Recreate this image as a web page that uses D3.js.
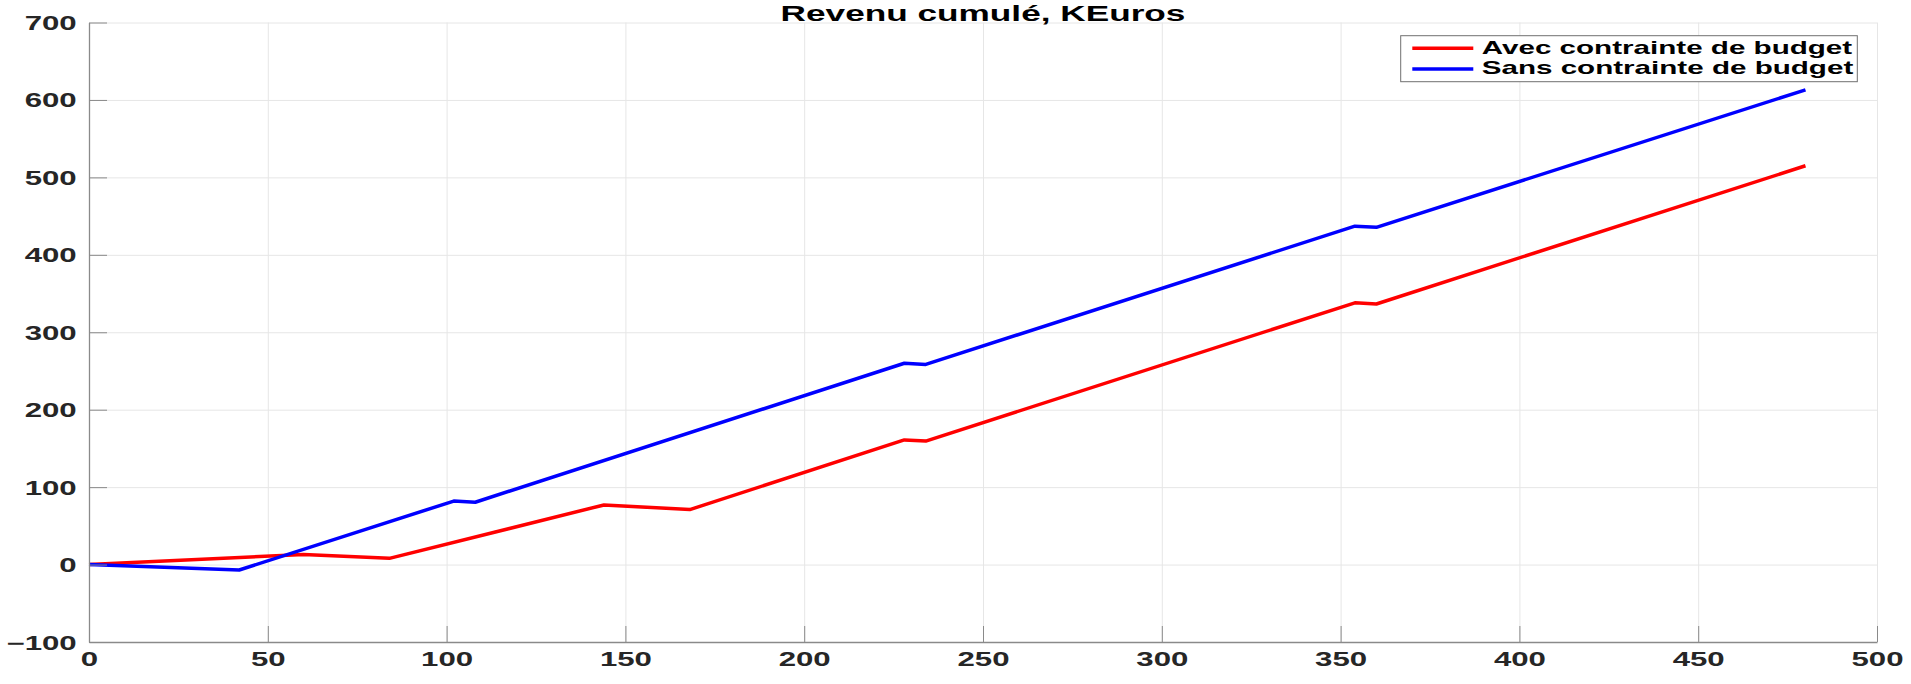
<!DOCTYPE html>
<html>
<head>
<meta charset="utf-8">
<script src="https://cdn.jsdelivr.net/npm/d3@7"></script>
<style>
  html, body { margin: 0; padding: 0; background: #ffffff; }
  svg { display: block; }
</style>
</head>
<body>
<svg id="chart" width="1911" height="684"></svg>
<script>
// ---- data ----
const title = "Revenu cumulé, KEuros";
const seriesNames = ["Avec contrainte de budget", "Sans contrainte de budget"];
const redX = [0, 60, 84, 144, 168, 228, 234, 354, 360, 480];
const redY = [0, 13, 8, 77, 71, 161, 159.5, 338, 336.5, 515];
const blueX = [0, 42, 102, 108, 228, 234, 354, 360, 480];
const blueY = [0, -7, 82, 80.5, 260, 258.5, 437, 435.5, 613];
const xTicks = [0, 50, 100, 150, 200, 250, 300, 350, 400, 450, 500];
const yTicks = [-100, 0, 100, 200, 300, 400, 500, 600, 700];

(function () {
// ---- layout ----
const pL = 89, pR = 1877, pT = 22.5, pB = 642;
const SX = 1.6; // horizontal stretch of text
const FONT = "'Liberation Sans', Arial, Helvetica, sans-serif";

const svg = d3.select("#chart");
const x = d3.scaleLinear().domain([0, 500]).range([pL, pR]);
const y = d3.scaleLinear().domain([-100, 700]).range([pB, pT]);

// grid
const gridX = svg.append("g").attr("transform", `translate(0,${pB})`)
  .call(d3.axisBottom(x).tickValues(xTicks).tickSize(-(pB - pT)).tickFormat(""));
const gridY = svg.append("g").attr("transform", `translate(${pL},0)`)
  .call(d3.axisLeft(y).tickValues(yTicks).tickSize(-(pR - pL)).tickFormat(""));
[gridX, gridY].forEach(g => {
  g.select(".domain").remove();
  g.selectAll(".tick line").attr("stroke", "#e6e6e6").attr("stroke-width", 1);
});

// lines
const line = d3.line().x(d => x(d[0])).y(d => y(d[1]));
const redData = redX.map((v, i) => [v, redY[i]]);
const blueData = blueX.map((v, i) => [v, blueY[i]]);
svg.append("path").datum(redData).attr("d", line)
  .attr("fill", "none").attr("stroke", "#ff0000").attr("stroke-width", 3.5).attr("stroke-linejoin", "round");
svg.append("path").datum(blueData).attr("d", line)
  .attr("fill", "none").attr("stroke", "#0000ff").attr("stroke-width", 3.5).attr("stroke-linejoin", "round");

// axes
const axX = svg.append("g").attr("transform", `translate(0,${pB})`)
  .call(d3.axisBottom(x).tickValues(xTicks).tickSizeInner(-16).tickSizeOuter(0).tickFormat(d3.format("d")));
const axY = svg.append("g").attr("transform", `translate(${pL},0)`)
  .call(d3.axisLeft(y).tickValues(yTicks).tickSizeInner(-18).tickSizeOuter(0).tickFormat(d3.format("d")));
[axX, axY].forEach(g => {
  g.select(".domain").attr("stroke", "#8a8a8a").attr("stroke-width", 1.3);
  g.selectAll(".tick line").attr("stroke", "#8a8a8a").attr("stroke-width", 1);
  g.selectAll(".tick text").attr("font-family", FONT).attr("font-weight", "bold")
    .attr("font-size", 19.5).attr("fill", "#262626");
});
axX.selectAll(".tick text").attr("y", 0).attr("dy", null).attr("text-anchor", "middle")
  .attr("transform", `translate(0,24) scale(${SX},1)`);
axY.selectAll(".tick text").attr("x", 0).attr("dy", null).attr("text-anchor", "end")
  .attr("transform", `translate(-12.3,7) scale(${SX},1)`);

// title
svg.append("text").text(title)
  .attr("font-family", FONT).attr("font-weight", "bold").attr("font-size", 22).attr("fill", "#000")
  .attr("text-anchor", "middle")
  .attr("transform", `translate(${(pL + pR) / 2},20.5) scale(${SX},1)`);

// legend
const lg = svg.append("g");
lg.append("rect").attr("x", 1400.7).attr("y", 35.7).attr("width", 456.6).attr("height", 46)
  .attr("fill", "#fff").attr("stroke", "#707070").attr("stroke-width", 1);
const legendColors = ["#ff0000", "#0000ff"];
seriesNames.forEach((name, i) => {
  const ly = 48.3 + i * 20.7;
  lg.append("line").attr("x1", 1412.3).attr("x2", 1473.3).attr("y1", ly).attr("y2", ly)
    .attr("stroke", legendColors[i]).attr("stroke-width", 3.5);
  lg.append("text").text(name)
    .attr("font-family", FONT).attr("font-weight", "bold").attr("font-size", 18.5).attr("fill", "#000")
    .attr("transform", `translate(1481.7,${ly + 5.2}) scale(${SX},1)`);
});
})();
</script>
</body>
</html>
